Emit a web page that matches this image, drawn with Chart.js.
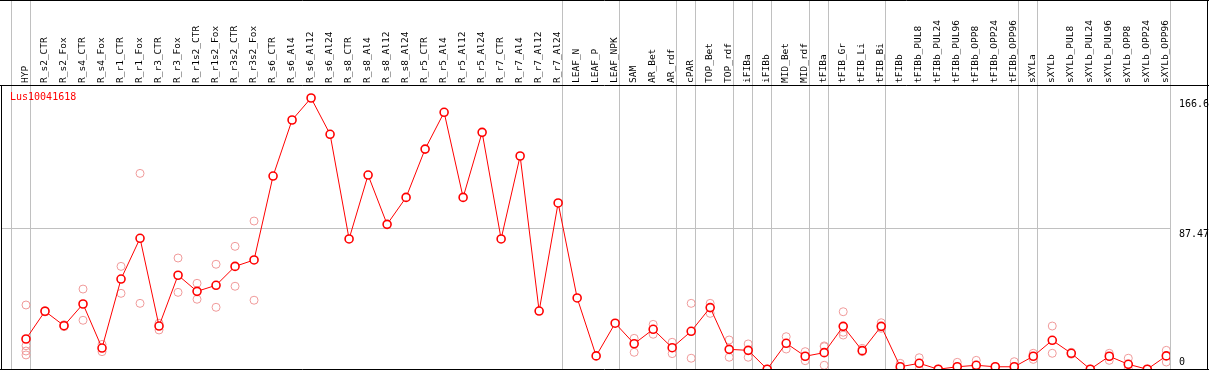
<!DOCTYPE html>
<html><head><meta charset="utf-8">
<script src="https://cdn.jsdelivr.net/npm/chart.js@4.4.1/dist/chart.umd.min.js"></script>
<style>html,body{margin:0;padding:0;background:#fff;overflow:hidden}canvas{display:block}</style>
</head><body>
<canvas id="c" width="1209" height="370"></canvas>
<script>
const geneName = 'Lus10041618';
const categories = ['HYP','R_s2_CTR','R_s2_Fox','R_s4_CTR','R_s4_Fox','R_r1_CTR','R_r1_Fox','R_r3_CTR','R_r3_Fox',
  'R_r1s2_CTR','R_r1s2_Fox','R_r3s2_CTR','R_r3s2_Fox','R_s6_CTR','R_s6_Al4','R_s6_Al12','R_s6_Al24',
  'R_s8_CTR','R_s8_Al4','R_s8_Al12','R_s8_Al24','R_r5_CTR','R_r5_Al4','R_r5_Al12','R_r5_Al24',
  'R_r7_CTR','R_r7_Al4','R_r7_Al12','R_r7_Al24','LEAF_N','LEAF_P','LEAF_NPK','SAM','AR_Bet','AR_rdf',
  'cPAR','TOP_Bet','TOP_rdf','iFIBa','iFIBb','MID_Bet','MID_rdf','tFIBa','tFIB_Gr','tFIB_Li','tFIB_Bi',
  'tFIBb','tFIBb_PUL8','tFIBb_PUL24','tFIBb_PUL96','tFIBb_OPP8','tFIBb_OPP24','tFIBb_OPP96',
  'sXYLa','sXYLb','sXYLb_PUL8','sXYLb_PUL24','sXYLb_PUL96','sXYLb_OPP8','sXYLb_OPP24','sXYLb_OPP96'];
const means = [19.9,36.8,28.0,41.2,14.4,56.4,81.2,27.8,58.7,48.9,52.6,64.1,68.0,
  119.1,153.2,166.6,144.5,80.8,119.7,89.7,106.1,135.5,157.9,106.1,145.7,80.8,131.3,36.9,102.7,
  44.9,9.6,29.5,17.0,25.8,14.6,24.6,39.0,13.6,13.0,1.5,17.3,9.4,11.6,27.6,12.8,27.6,
  3.0,5.1,1.5,3.0,3.9,3.0,3.0,9.4,19.1,11.2,1.5,9.4,4.5,1.5,9.6];
const replicates = [
  [40.6,15.8,12.6,10.2],[37.2,36.4],[28.6,27.4],[50.3,31.3],[16.6,12.2],[64.1,47.7],[120.7,41.6],
  [29.5,25.4],[69.2,48.3],[53.8,44.1],[65.4,39.2],[76.3,52.0],[91.7,43.5],
  [],[],[],[],[],[],[],[],[],[],[],[],[],[],[],[],[],[],[],
  [20.3,11.8],[28.8,22.8],[17.9,11.0],[41.6,8.2],[41.6,35.5],[19.3,8.8],[16.9,8.8],[1.5,1.5],
  [21.3,13.8],[12.2,6.7],[15.2,3.9,15.7],[36.5,24.0,22.3],[14.2,12.2],[29.8,26.4],
  [5.1,1.0],[8.5,1.5],[1.5,1.5],[5.7,0.5],[6.9,1.0],[3.0,3.0],[6.1,0],
  [11.2,7.5],[27.8,11.2],[11.8,10.6],[1.5,1.5],[11.2,6.9],[8.2,1.8],[1.5,1.5],[13.0,5.9]];
const yTickValues = [0, 87.47, 166.6];
const yTickLabels = ['0', '87.47', '166.6'];
const gridValues = [87.47];
const groupEnds = [-1, 0, 28, 31, 34, 35, 37, 38, 39, 41, 42, 45, 52, 53, 60];

const MONO = '"DejaVu Sans Mono", "Liberation Mono", monospace';

const decor = {
  id: 'decor',
  beforeDatasetsDraw(chart) {
    const {ctx, chartArea: a, scales: {x, y}} = chart;
    ctx.save();
    ctx.strokeStyle = '#c0c0c0';
    ctx.lineWidth = 1;
    ctx.beginPath();
    gridValues.forEach(v => {
      const py = Math.round(y.getPixelForValue(v)) + 0.5;
      ctx.moveTo(a.left, py); ctx.lineTo(a.right, py);
    });
    groupEnds.forEach(i => {
      const px = Math.round(x.getPixelForValue(i + 0.2)) + 0.5;
      ctx.moveTo(px, 0); ctx.lineTo(px, a.bottom);
    });
    ctx.stroke();
    ctx.restore();
  },
  afterDraw(chart) {
    const {ctx, chartArea: a, scales: {y}, width: W, height: H} = chart;
    ctx.save();
    ctx.strokeStyle = '#000';
    ctx.lineWidth = 1;
    ctx.beginPath();
    ctx.moveTo(0, 0.5); ctx.lineTo(W, 0.5);
    ctx.moveTo(0, a.top - 0.5); ctx.lineTo(W, a.top - 0.5);
    ctx.moveTo(0, a.bottom + 0.5); ctx.lineTo(W, a.bottom + 0.5);
    ctx.moveTo(a.left - 0.5, a.top); ctx.lineTo(a.left - 0.5, H);
    ctx.moveTo(W - 1.5, 0); ctx.lineTo(W - 1.5, H);
    ctx.stroke();
    ctx.font = '10px ' + MONO;
    ctx.fillStyle = '#000';
    ctx.textAlign = 'left';
    ctx.textBaseline = 'top';
    yTickValues.forEach((v, k) => {
      const py = Math.min(y.getPixelForValue(v) + 1, a.bottom - 12);
      ctx.fillText(yTickLabels[k], a.right + 9, py);
    });
    ctx.fillStyle = '#ff0000';
    ctx.textBaseline = 'middle';
    ctx.fillText(geneName, a.left + 8, a.top + 11);
    ctx.restore();
  }
};

const zeroPad = s => { s.paddingLeft = 0; s.paddingRight = 0; s.paddingTop = 0; s.paddingBottom = 0; };

const repPoints = [];
replicates.forEach((arr, i) => arr.forEach(v => repPoints.push({x: i, y: v})));

new Chart(document.getElementById('c'), {
  type: 'line',
  data: {
    datasets: [
      {
        type: 'line',
        data: means.map((v, i) => ({x: i, y: v})),
        borderColor: '#ff0000',
        borderWidth: 1,
        pointRadius: 4,
        pointBorderWidth: 1.6,
        pointBorderColor: '#ff0000',
        pointBackgroundColor: '#ffffff',
        tension: 0,
        clip: 0,
        order: 1
      },
      {
        type: 'scatter',
        data: repPoints,
        showLine: false,
        pointRadius: 4,
        pointBorderWidth: 1,
        pointBorderColor: '#f09a9a',
        pointBackgroundColor: 'rgba(0,0,0,0)',
        clip: 0,
        order: 2
      }
    ]
  },
  options: {
    responsive: false,
    animation: false,
    devicePixelRatio: 1,
    layout: {autoPadding: false, padding: {left: 2, right: 0, top: 0, bottom: 1}},
    plugins: {legend: {display: false}, tooltip: {enabled: false}},
    events: [],
    scales: {
      x: {
        type: 'linear',
        position: 'top',
        min: -1.263,
        max: 60.195,
        afterBuildTicks: s => { s.ticks = categories.map((_, i) => ({value: i})); },
        afterFit: s => { s.height = 86; zeroPad(s); },
        grid: {display: false, drawTicks: false},
        border: {display: false},
        ticks: {
          autoSkip: false, minRotation: 90, maxRotation: 90, padding: 3, labelOffset: 10.5,
          color: '#000', font: {family: MONO, size: 9.5},
          callback: v => categories[v] ?? ''
        }
      },
      y: {
        type: 'linear',
        position: 'right',
        min: 1.64,
        max: 173.9,
        afterFit: s => { s.width = 39; zeroPad(s); },
        grid: {display: false},
        border: {display: false},
        ticks: {display: false}
      }
    }
  },
  plugins: [decor]
});
</script>
</body></html>
